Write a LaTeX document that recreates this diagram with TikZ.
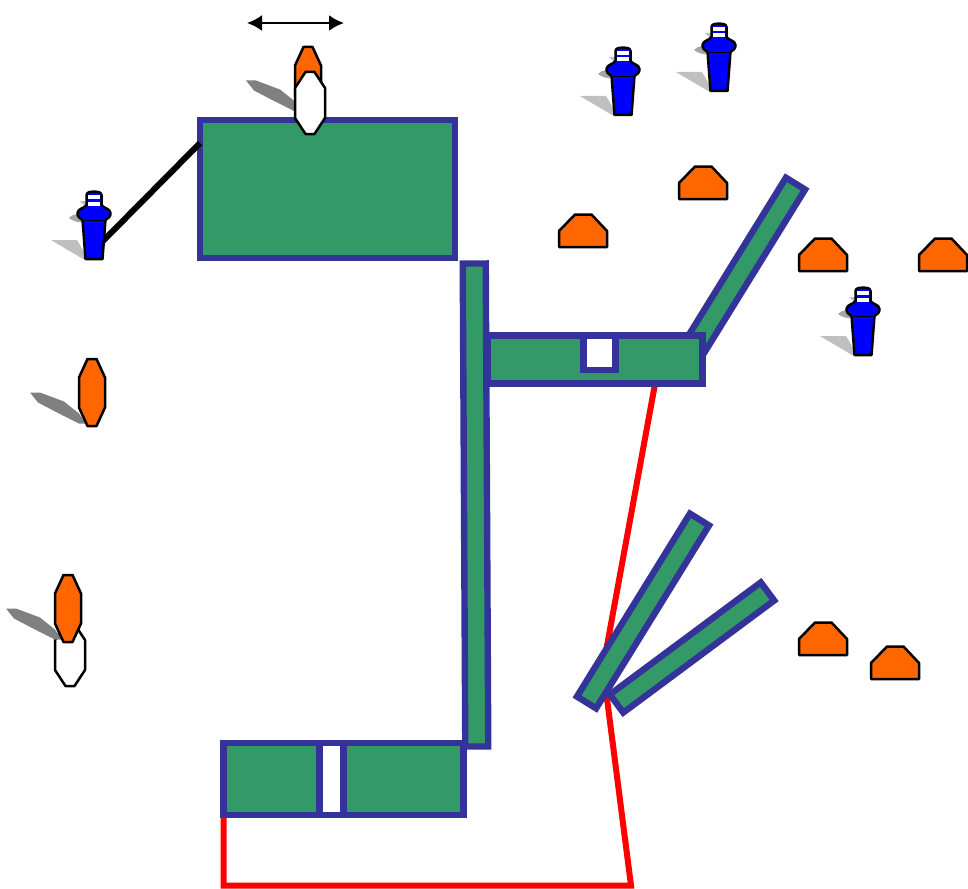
\documentclass[tikz,border=0pt]{standalone}
\usepackage{tikz}
\usetikzlibrary{arrows.meta}
\usetikzlibrary{calc}
\definecolor{tablegreen}{HTML}{339966}
\definecolor{tableblue}{HTML}{333399}
\definecolor{coneorange}{HTML}{FF6600}
\tikzstyle{tableblock} = [rectangle, draw=tableblue, fill=tablegreen, line width=6.4pt, inner sep=0pt, outer sep=0pt]
\tikzstyle{gapblock} = [tableblock, fill=white]
\tikzstyle{outline} = [draw=black, line width=2.5pt, line join=round]
\tikzstyle{wire} = [draw=red, line width=6pt, line join=miter]
\tikzstyle{rod} = [draw=black, line width=6pt]
\tikzset{
    % top-down player, anchored at its centre
    octa/.pic={
        \path[outline, fill=#1] (-4.5,-33.5) -- (4.5,-33.5) -- (13,-15) -- (13,15) -- (4.5,33.5) -- (-4.5,33.5) -- (-13,15) -- (-13,-15) -- cycle;
    },
    whiteocta/.pic={
        \path[outline, fill=white] (-4.5,-31) -- (4.5,-31) -- (15,-15) -- (15,15) -- (4.5,31) -- (-4.5,31) -- (-15,15) -- (-15,-15) -- cycle;
    },
    longshadow/.pic={
        \fill[gray] (-62,0) -- (-52,0) -- (-28,9) -- (-13,21) -- (-6,31) -- (-13,31) -- (-33,21) -- (-54,10) -- cycle;
    },
    cone/.pic={
        \path[outline, fill=coneorange] (16,0.5) -- (32.5,0.5) -- (48,17) -- (48,33) -- (0,33) -- (0,17) -- cycle;
    },
    % standing figure, anchored at the middle of the top of its head
    bluefig/.pic={
        \fill[black!25] (-43,49) -- (-17,49) -- (-7,66) -- (-11,68) -- cycle;
        \fill[gray!70] (-25,27) .. controls (-22,23) and (-14,22) .. (-10,23) -- (-10,31) .. controls (-15,32) and (-22,30) .. (-25,27) -- cycle;
        \fill[gray!50] (-14,10) -- (-7,10) -- (-7,14) -- (-10,14) -- cycle;
        \path[outline, fill=blue] (-11.5,28.5) -- (11.5,28.5) -- (8.5,68) -- (-8.5,68) -- cycle;
        \fill[blue] (-11,25) rectangle (11,29);
        \draw[black, line width=0.8pt] (-11,29) -- (11,29);
        \path[outline, fill=blue] (-11.5,29) .. controls (-14,27.5) and (-16.8,25.5) .. (-16.5,22) .. controls (-16.2,17.5) and (-9,17) .. (-7.5,14) -- (-7.5,4) .. controls (-7.5,1) and (-3,0.5) .. (0,0.5) .. controls (3,0.5) and (7.5,1) .. (7.5,4) -- (7.5,14)
            .. controls (9,17) and (16.2,17.5) .. (16.5,22) .. controls (16.8,25.5) and (14,27.5) .. (11.5,29);
        \fill[white] (-6.2,4) rectangle (6.2,8);
        \fill[white] (-6.2,10.5) rectangle (6.2,14.5);
    }
}

\begin{document}
\begin{tikzpicture}[x=1pt, y=-1pt]
    \useasboundingbox (0,0) rectangle (968,888);

    % Red wire first, the bars cover it
    \coordinate (wirestart) at (223.5,815);
    \coordinate (wirecorner) at (223.5,885.5);
    \coordinate (wireturn) at (631,885.5);
    \coordinate (wirepivot) at (603,667.5);
    \coordinate (wireend) at (655,384);
    \draw[wire] (wirestart) -- (wirecorner) -- (wireturn) -- (wirepivot) -- (wireend);

    % Tables
    \node [tableblock, minimum width=255pt, minimum height=138pt] (tabletop) at (327.5,189) {};
    \node [tableblock, minimum width=196pt, minimum height=22.5pt, rotate=58.3] (barright) at (744,267) {};
    \node [tableblock, minimum width=240pt, minimum height=71.5pt] (tablebottom) at (343.5,779) {};
    \node [gapblock, minimum width=24pt, minimum height=71.5pt] (gapbottom) at (331.5,779) {};
    \node [tableblock, minimum width=215pt, minimum height=48pt] (tablemiddle) at (595,359.5) {};
    \node [gapblock, minimum width=32pt, minimum height=34.5pt] (gapmiddle) at (599.5,352.7) {};
    \node [tableblock, minimum width=23pt, minimum height=483pt, rotate=0.3] (barlong) at (475.5,505) {};
    \node [tableblock, minimum width=188pt, minimum height=22.5pt, rotate=36.6] (barlow) at (692,647.5) {};
    \node [tableblock, minimum width=215pt, minimum height=22.5pt, rotate=58.3] (barmid) at (643,611) {};

    % Rod to the big table
    \coordinate (rodend) at (100,244);
    \draw[rod] (rodend) -- ($(tabletop.north west)!0.167!(tabletop.south west)$);

    % Arrow above the player
    \coordinate (arrowleft) at (247,23);
    \coordinate (arrowright) at (344,23);
    \draw[line width=2.4pt, {Latex[length=15pt,width=16pt]}-{Latex[length=15pt,width=16pt]}] (arrowleft) -- (arrowright);

    % Players
    \pic at (308,80.5) {longshadow};
    \pic at (308,80.5) {octa=coneorange};
    \pic at (310,103) {whiteocta};
    \pic at (92,392.5) {longshadow};
    \pic at (92,392.5) {octa=coneorange};
    \pic at (70,655) {whiteocta};
    \pic at (68,608.5) {longshadow};
    \pic at (68,608.5) {octa=coneorange};

    % Figures
    \foreach \x/\y in {94/191, 623/47, 719/23, 863/287} {
        \pic at (\x,\y) {bluefig};
    }

    % Cones
    \foreach \x/\y in {559/214, 679/166, 799/238, 919/238, 799/622, 871/646} {
        \pic at (\x,\y) {cone};
    }
\end{tikzpicture}
\end{document}
